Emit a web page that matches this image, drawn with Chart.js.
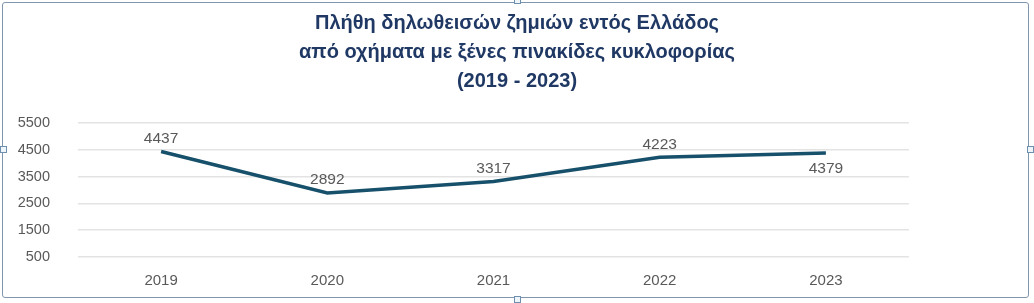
<!DOCTYPE html>
<html><head><meta charset="utf-8">
<script src="https://cdn.jsdelivr.net/npm/chart.js@4.4.1/dist/chart.umd.min.js"></script>
<style>
html,body{margin:0;padding:0;background:#fff;}
#wrap{position:relative;width:1034px;height:303px;overflow:hidden;}
#frame{position:absolute;left:2px;top:2px;width:1027px;height:296px;border:1px solid #7f96ad;border-radius:3px;box-sizing:border-box;pointer-events:none;}
.h{position:absolute;width:7px;height:7px;border:1px solid #6f8fae;background:#eef5fb;box-sizing:border-box;}
canvas{position:absolute;left:0;top:0;}
</style></head>
<body><div id="wrap"><canvas id="c" width="1034" height="303"></canvas><div id="frame"></div>
<div class="h" style="left:0;top:146px"></div><div class="h" style="left:1027px;top:146px"></div>
<div class="h" style="left:514px;top:-3px"></div><div class="h" style="left:514px;top:296px"></div></div>
<script>
const categories = ['2019','2020','2021','2022','2023'];
const claims = [4437, 2892, 3317, 4223, 4379];
const yTicks = [500, 1500, 2500, 3500, 4500, 5500];
const titleLines = ['Πλήθη δηλωθεισών ζημιών εντός Ελλάδος','από οχήματα με ξένες πινακίδες κυκλοφορίας','(2019 - 2023)'];
const labelBelow = [false,false,false,false,true];

const labelPlugin = {
  id:'vlabels',
  afterDatasetsDraw(chart){
    const ctx = chart.ctx;
    const meta = chart.getDatasetMeta(0);
    ctx.save();
    ctx.font = '15.5px "Liberation Sans", Arial, sans-serif';
    ctx.fillStyle = '#595959';
    ctx.textAlign = 'center';
    meta.data.forEach((pt,i)=>{
      const v = chart.data.datasets[0].data[i];
      if(labelBelow[i]){ ctx.textBaseline='top'; ctx.fillText(String(v), pt.x, pt.y+8); }
      else { ctx.textBaseline='bottom'; ctx.fillText(String(v), pt.x, pt.y-5); }
    });
    ctx.restore();
  }
};
const titlePlugin = {
  id:'ctitle',
  afterDraw(chart){
    const ctx = chart.ctx;
    ctx.save();
    ctx.font = 'bold 20px "Liberation Sans", Arial, sans-serif';
    ctx.fillStyle = '#1f3864';
    ctx.textAlign = 'center';
    ctx.textBaseline = 'middle';
    const cx = chart.width/2;
    titleLines.forEach((t,i)=>ctx.fillText(t, cx, 23 + i*29));
    ctx.restore();
  }
};

new Chart(document.getElementById('c'), {
  type:'line',
  data:{labels:categories, datasets:[{data:claims, borderColor:'#17506b', borderWidth:3.5, pointRadius:0, tension:0, fill:false}]},
  options:{
    responsive:false, animation:false,
    layout:{padding:{left:0,right:125,top:123,bottom:6}},
    plugins:{ legend:{display:false}, tooltip:{enabled:false}, title:{display:false} },
    scales:{
      x:{offset:true, afterFit(s){ s.height = 40; }, grid:{display:false}, border:{display:false}, ticks:{color:'#595959', font:{family:'"Liberation Sans", Arial, sans-serif', size:15}, padding:7}},
      y:{min:500, max:5500, afterBuildTicks(s){ s.ticks = yTicks.map(v=>({value:v})); }, afterFit(s){ s.width = 78; },
         grid:{color:'#e3e3e3', lineWidth:1.5, drawTicks:false}, border:{display:false},
         ticks:{color:'#595959', font:{family:'"Liberation Sans", Arial, sans-serif', size:14.5}, padding:28, callback:(v)=>String(v)}}
    }
  },
  plugins:[labelPlugin, titlePlugin]
});
</script></body></html>
